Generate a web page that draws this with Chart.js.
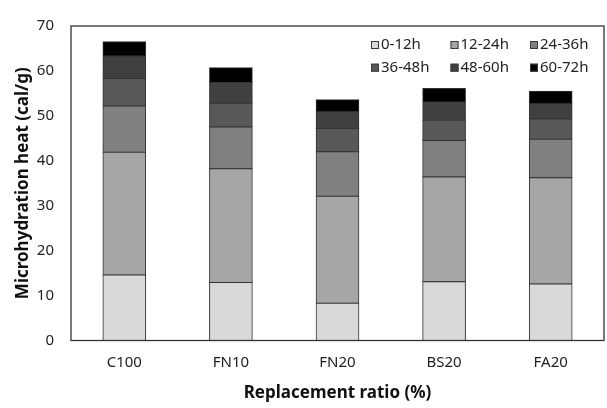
<!DOCTYPE html>
<html>
<head>
<meta charset="utf-8">
<script src="https://cdn.jsdelivr.net/npm/chart.js@4"></script>
<style>
  html, body { margin: 0; padding: 0; background: #fff; }
  #wrap { width: 607px; height: 408px; }
</style>
</head>
<body>
<div id="wrap"><canvas id="myChart" width="607" height="408"></canvas></div>
<script>
// categories
const mixes = ["C100", "FN10", "FN20", "BS20", "FA20"];

// heat released in each period (cal/g)
const h0_12  = [14.6, 12.9, 8.3, 13.1, 12.6];
const h12_24 = [27.3, 25.3, 23.8, 23.3, 23.6];
const h24_36 = [10.3, 9.3, 9.9, 8.1, 8.6];
const h36_48 = [6.1, 5.3, 5.2, 4.5, 4.5];
const h48_60 = [5.0, 4.6, 3.7, 4.1, 3.4];
const h60_72 = [3.2, 3.3, 2.7, 3.0, 2.8];

const periodLabels = ["0-12h", "12-24h", "24-36h", "36-48h", "48-60h", "60-72h"];
const periodColors = ["#d9d9d9", "#a6a6a6", "#808080", "#585858", "#404040", "#000000"];

const yTicks = [0, 10, 20, 30, 40, 50, 60, 70];

const FONT = "'Noto Sans', 'Open Sans', sans-serif";

const seriesList = [h0_12, h12_24, h24_36, h36_48, h48_60, h60_72];
const datasets = seriesList.map((vals, i) => ({
  label: periodLabels[i],
  data: vals,
  backgroundColor: periodColors[i],
  borderColor: "#333",
  borderWidth: 1,
  borderSkipped: false,
  inflateAmount: 0.5,
  categoryPercentage: 1.0,
  barPercentage: 0.4,
}));

// frame round the plot + legend inside top right
const framePlugin = {
  id: "frame",
  afterDraw(chart) {
    const ctx = chart.ctx;
    const a = chart.chartArea;
    ctx.save();
    ctx.strokeStyle = "#333";
    ctx.lineWidth = 1.3;
    ctx.strokeRect(a.left, a.top, a.right - a.left, a.bottom - a.top);

    // legend, 3 columns x 2 rows
    ctx.font = "15px " + FONT;
    ctx.textBaseline = "middle";
    ctx.textAlign = "left";
    const x0 = a.right - 233;
    chart.data.datasets.forEach((ds, i) => {
      const col = i % 3, row = Math.floor(i / 3);
      const bx = x0 + col * 79.5;
      const cy = a.top + 19 + row * 22.7;
      ctx.fillStyle = ds.backgroundColor;
      ctx.fillRect(bx, cy - 4, 8, 8);
      ctx.strokeStyle = "#3a3a3a";
      ctx.lineWidth = 1;
      ctx.strokeRect(bx + 0.5, cy - 3.5, 7, 7);
      ctx.fillStyle = "#222";
      ctx.fillText(ds.label, bx + 10, cy);
    });
    ctx.restore();
  }
};

const config = {
  type: "bar",
  data: { labels: mixes, datasets: datasets },
  options: {
    responsive: false,
    animation: false,
    layout: { padding: { top: 11, right: 3, left: 0, bottom: 0 } },
    plugins: {
      legend: { display: false },
      tooltip: { enabled: false },
    },
    scales: {
      x: {
        stacked: true,
        grid: { display: false, drawTicks: false },
        border: { display: false },
        ticks: { color: "#222", font: { family: FONT, size: 15 }, padding: 13 },
        title: {
          display: true,
          text: "Replacement ratio (%)",
          color: "#111",
          font: { family: FONT, size: 17, weight: "bold" },
          padding: { top: 0, bottom: 5 },
        },
        afterFit(scale) { scale.height = 67.5; },
      },
      y: {
        stacked: true,
        min: 0,
        max: 70,
        afterBuildTicks(scale) { scale.ticks = yTicks.map(v => ({ value: v })); },
        grid: { display: false, drawTicks: false },
        border: { display: false },
        ticks: { color: "#222", font: { family: FONT, size: 15 }, padding: 17 },
        title: {
          display: true,
          text: "Microhydration heat (cal/g)",
          color: "#111",
          font: { family: FONT, size: 17, weight: "bold" },
          padding: { top: 13, bottom: 0 },
        },
        afterFit(scale) { scale.width = 71; },
      },
    },
  },
  plugins: [framePlugin],
};

const context = document.getElementById("myChart").getContext("2d");
const chart = new Chart(context, config);
</script>
</body>
</html>
